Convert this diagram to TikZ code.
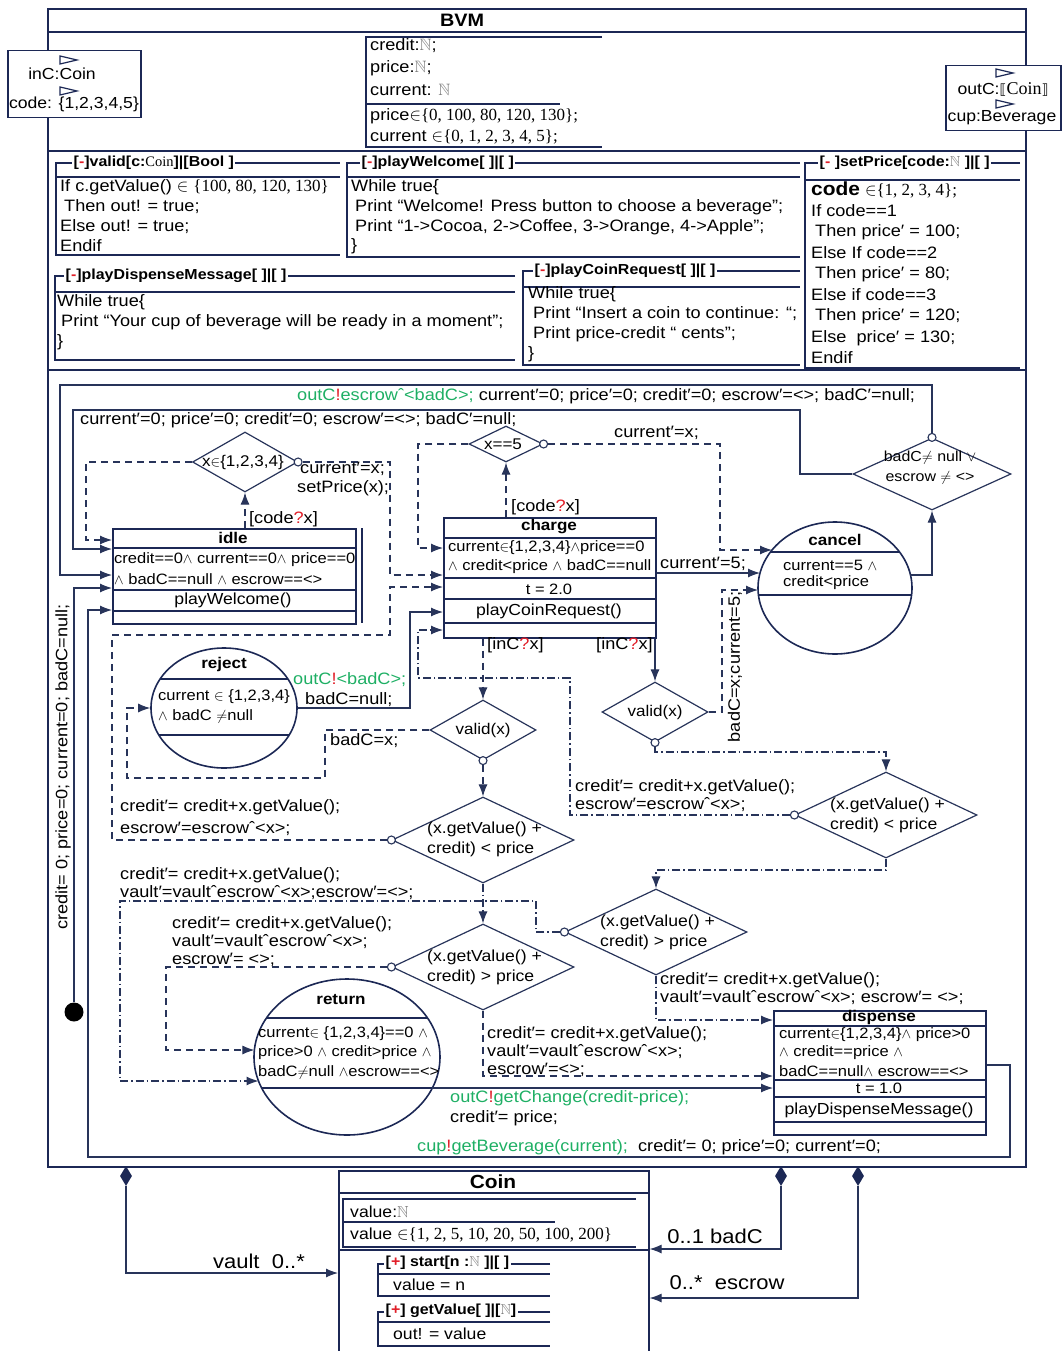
\documentclass[tikz,border=0pt]{standalone}
\usepackage{amssymb}
\usepackage{fontspec}
\setmainfont{Liberation Sans}[FakeStretch=1.1]
\newfontfamily\tms{Liberation Serif}
\newfontfamily\dvs{DejaVu Sans}
\usetikzlibrary{arrows.meta,shapes.geometric}
\definecolor{ln}{RGB}{40,52,90}
\definecolor{fr}{RGB}{28,40,85}
\definecolor{gr}{RGB}{30,175,100}
\definecolor{rd}{RGB}{225,30,40}
\newcommand\fsz[1]{\fontsize{#1}{#1}\selectfont}
\newcommand\sN{{\color{gray}$\mathbb{N}$}}
\newcommand\sIn{$\in$}
\newcommand\sAnd{$\wedge$}
\newcommand\sOr{$\vee$}
\newcommand\sNe{$\neq$}
\newcommand\prm{′}
\newcommand\ccat{ˆ}
\newcommand\rbang{{\color{rd}!}}
\newcommand\rqm{{\color{rd}?}}
\newcommand\rmn{{\color{rd}-}}
\newcommand\rpl{{\color{rd}+}}
\newcommand\gtx[1]{{\color{gr}#1}}
\begin{document}
\begin{tikzpicture}[x=1pt,y=-1pt,
  cn/.style={draw=ln, line width=1.1pt},
  dsh/.style={cn, dash pattern=on 7pt off 5pt},
  ddt/.style={cn, dash pattern=on 8pt off 3pt on 1.5pt off 3pt},
  arr/.style={-{Latex[length=12pt,width=9pt]}},
  cdot/.style={circle, draw=ln, line width=1.1pt, fill=white, inner sep=0pt, minimum size=8pt},
  dia/.style={diamond, draw=ln, line width=1.2pt, inner sep=0pt},
  stbox/.style={rectangle, draw=fr, line width=1.5pt, inner sep=0pt, anchor=north west},
  stell/.style={ellipse, draw=fr, line width=1.6pt, inner sep=0pt},
  chord/.style={draw=fr, line width=1.4pt},
  opl/.style={draw=fr, line width=1.2pt},
  op/.style={anchor=west, inner sep=0pt, font=\fsz{16.5}},
  st/.style={anchor=west, inner sep=0pt, font=\fsz{15}},
  stt/.style={inner sep=0pt, font=\bfseries\fsz{15.5}},
  stc/.style={inner sep=0pt, font=\fsz{15}},
  tl/.style={anchor=west, inner sep=0pt, font=\fsz{16.5}},
  hd/.style={anchor=west, inner sep=1.5pt, fill=white, font=\bfseries\fsz{14.5}},
  dtx/.style={anchor=west, inner sep=0pt, font=\fsz{16}},
  dlab/.style={inner sep=0pt, font=\fsz{15.5}},
]
\useasboundingbox (0,0) rectangle (1062,1351);

% ===== BVM frame =====
\node[draw=fr, line width=2pt, minimum width=978pt, minimum height=1158pt, anchor=north west, inner sep=0pt] (bvm) at (47,8) {};
\draw[fr, line width=1.5pt] (47,32) -- (1025,32);
\node[font=\bfseries\fsz{18}, inner sep=0pt] (bvmt) at (462,20) {BVM};
\draw[fr, line width=1.4pt] (47,151) -- (1025,151);
\draw[fr, line width=1.4pt] (47,370) -- (1025,370);

% attributes
\draw[opl] (602,37) -- (366,37) -- (366,147) -- (602,147);
\draw[opl] (366,104) -- (560,104);
\node[op] at (370,46) {credit:\sN;};
\node[op] at (370,68) {price:\sN;};
\node[op] at (370,90) {current: \sN};
\node[op] at (370,116) {price{\tms\fsz{17}\sIn\{0, 100, 80, 120, 130\};}};
\node[op] at (370,137) {current {\tms\fsz{17}\sIn\{0, 1, 2, 3, 4, 5\};}};

% ports
\node[draw=fr, fill=white, line width=1.5pt, minimum width=133pt, minimum height=67pt, anchor=north west, inner sep=0pt] (inc) at (7,50) {};
\draw[fr, line width=1.2pt] (60,56) -- (77,60) -- (60,64) -- cycle;
\node[font=\fsz{16}, inner sep=0pt] at (62,74) {inC:Coin};
\draw[fr, line width=1.2pt] (60,87) -- (77,91) -- (60,95) -- cycle;
\node[font=\fsz{16}, inner sep=0pt] at (74,104) {code: \{1,2,3,4,5\}};
\node[draw=fr, fill=white, line width=1.5pt, minimum width=115pt, minimum height=65pt, anchor=north west, inner sep=0pt] (outc) at (945,65) {};
\draw[fr, line width=1.2pt] (996,69) -- (1013,73) -- (996,77) -- cycle;
\node[font=\fsz{16}, inner sep=0pt] at (1003,89) {outC:{\dvs\fsz{14}⟦}{\tms\fsz{18}Coin}{\dvs\fsz{14}⟧}};
\draw[fr, line width=1.2pt] (996,100) -- (1013,104) -- (996,108) -- cycle;
\node[font=\fsz{16}, inner sep=0pt] at (1002,118) {cup:Beverage};

% ===== operations =====
\draw[opl] (340,163) -- (56,163) -- (56,255) -- (340,255);
\draw[opl] (56,177) -- (340,177);
\node[hd] at (72,163) {[\rmn]valid[c:{\mdseries\tms Coin}]|[Bool ]};
\node[op] at (60,187) {If c.getValue() \sIn\ {\tms\fsz{17}\{100, 80, 120, 130\}}};
\node[op] at (64,207) {Then out! = true;};
\node[op] at (60,227) {Else out! = true;};
\node[op] at (60,246) {Endif};

\draw[opl] (800,163) -- (347,163) -- (347,257) -- (800,257);
\draw[opl] (347,177) -- (800,177);
\node[hd] at (360,163) {[\rmn]playWelcome[ ]|[ ]};
\node[op] at (351,187) {While true\{};
\node[op] at (355,207) {Print “Welcome! Press button to choose a beverage”;};
\node[op] at (355,227) {Print “1->Cocoa, 2->Coffee, 3->Orange, 4->Apple”;};
\node[op] at (351,246) {\}};

\draw[opl] (1020,163) -- (805,163) -- (805,368) -- (1020,368);
\draw[opl] (805,180) -- (1020,180);
\node[hd] at (818,163) {[\rmn\ ]setPrice[code:\sN\ ]|[ ]};
\node[op] at (811,190) {{\bfseries\fsz{19}code} {\tms\fsz{17}\sIn\{1, 2, 3, 4\};}};
\node[op] at (811,211) {If code==1};
\node[op] at (815,232) {Then price\prm\ = 100;};
\node[op] at (811,253) {Else If code==2};
\node[op] at (815,274) {Then price\prm\ = 80;};
\node[op] at (811,295) {Else if code==3};
\node[op] at (815,316) {Then price\prm\ = 120;};
\node[op] at (811,338) {Else\ \ price\prm\ = 130;};
\node[op] at (811,358) {Endif};

\draw[opl] (515,276) -- (55,276) -- (55,360) -- (515,360);
\draw[opl] (55,292) -- (515,292);
\node[hd] at (64,276) {[\rmn]playDispenseMessage[ ]|[ ]};
\node[op] at (57,302) {While true\{};
\node[op] at (61,322) {Print “Your cup of beverage will be ready in a moment”;};
\node[op] at (57,342) {\}};

\draw[opl] (800,271) -- (523,271) -- (523,365) -- (800,365);
\draw[opl] (523,287) -- (800,287);
\node[hd] at (533,271) {[\rmn]playCoinRequest[ ]|[ ]};
\node[op] at (528,294) {While true\{};
\node[op] at (533,314) {Print “Insert a coin to continue: “;};
\node[op] at (533,334) {Print price-credit “ cents”;};
\node[op] at (528,354) {\}};

% ===== states =====
\node[stbox, minimum width=243pt, minimum height=95pt] (idle) at (112,528) {};
\draw[fr, line width=1.5pt] (362,528) -- (362,623);
\draw[chord] (112,548) -- (355,548) (112,590) -- (355,590) (112,611) -- (355,611);
\node[stt] at (233,538) {idle};
\node[st] at (114,560) {credit==0\sAnd\ current==0\sAnd\ price==0};
\node[st] at (114,579) {\sAnd\ badC==null \sAnd\ escrow==<>};
\node[stc, font=\fsz{16}] at (233,600) {playWelcome()};

\node[stbox, minimum width=212pt, minimum height=120pt] (charge) at (443,517) {};
\draw[chord] (443,538) -- (655,538) (443,578) -- (655,578) (443,599) -- (655,599) (443,623) -- (655,623);
\node[stt] at (549,527) {charge};
\node[st] at (448,548) {current\sIn\{1,2,3,4\}\sAnd price==0};
\node[st] at (448,567) {\sAnd\ credit<price \sAnd\ badC==null};
\node[stc] at (549,589) {t = 2.0};
\node[stc, font=\fsz{16}] at (549,611) {playCoinRequest()};

\node[stbox, minimum width=212pt, minimum height=124pt] (disp) at (773,1010) {};
\draw[chord] (773,1026) -- (985,1026) (773,1080) -- (985,1080) (773,1097) -- (985,1097) (773,1122) -- (985,1122);
\node[stt] at (879,1017) {dispense};
\node[st] at (779,1035) {current\sIn\{1,2,3,4\}\sAnd\ price>0};
\node[st] at (779,1053) {\sAnd\ credit==price \sAnd};
\node[st] at (779,1071) {badC==null\sAnd\ escrow==<>};
\node[stc] at (879,1088) {t = 1.0};
\node[stc, font=\fsz{16}] at (879,1110) {playDispenseMessage()};

\node[stell, minimum width=154pt, minimum height=132pt] (cancel) at (835,588) {};
\draw[chord] (770.5,552) -- (899.5,552) (758.4,595) -- (911.6,595);
\node[stt] at (835,540) {cancel};
\node[st] at (783,565) {current==5 \sAnd};
\node[st] at (783,583) {credit<price};

\node[stell, minimum width=146pt, minimum height=120pt] (rej) at (224,708) {};
\draw[chord] (160.1,679) -- (287.9,679) (158.8,735) -- (289.2,735);
\node[stt] at (224,664) {reject};
\node[st] at (158,697) {current \sIn\ \{1,2,3,4\}};
\node[st] at (158,716) {\sAnd\ badC \sNe null};

\node[stell, minimum width=186pt, minimum height=156pt] (ret) at (347,1057) {};
\draw[chord] (266.5,1018) -- (427.5,1018) (261.7,1088) -- (432.3,1088);
\node[stt] at (341,1000) {return};
\node[st] at (258,1034) {current\sIn\ \{1,2,3,4\}==0 \sAnd};
\node[st] at (258,1053) {price>0 \sAnd\ credit>price \sAnd};
\node[st] at (258,1072) {badC\sNe null \sAnd escrow==<>};

% border points on ellipses
\coordinate (cA) at (772,550);
\coordinate (cB) at (760,573);
\coordinate (cC) at (910,575);
\coordinate (cD) at (758,590);
\coordinate (cE) at (258.5,1081);
\coordinate (cF) at (254.4,1050);
\coordinate (cG) at (432.3,1088);

% ===== decisions =====
\node[dia, minimum width=105pt, minimum height=60pt] (dset) at (245,462) {};
\node[dlab] at (243,462) {x\sIn\{1,2,3,4\}};
\node[dia, minimum width=74pt, minimum height=36pt] (d5) at (506,444) {};
\node[dlab] at (503,444) {x==5};
\node[dia, minimum width=158pt, minimum height=72pt] (dbad) at (932,474) {};
\node[inner sep=0pt, font=\fsz{14.5}] at (930,458) {badC\sNe\ null \sOr};
\node[inner sep=0pt, font=\fsz{14.5}] at (930,478) {escrow \sNe\ <>};
\node[dia, minimum width=106pt, minimum height=60pt] (dvl) at (483,730) {};
\node[dlab] at (483,730) {valid(x)};
\node[dia, minimum width=106pt, minimum height=60pt] (dvr) at (655,712) {};
\node[dlab] at (655,712) {valid(x)};
\node[dia, minimum width=182pt, minimum height=86pt] (dlt1) at (483,840) {};
\node[dtx] at (427,829) {(x.getValue() +};
\node[dtx] at (427,849) {credit) < price};
\node[dia, minimum width=182pt, minimum height=86pt] (dlt2) at (886,815) {};
\node[dtx] at (830,805) {(x.getValue() +};
\node[dtx] at (830,825) {credit) < price};
\node[dia, minimum width=182pt, minimum height=86pt] (dgt1) at (483,967) {};
\node[dtx] at (427,957) {(x.getValue() +};
\node[dtx] at (427,977) {credit) > price};
\node[dia, minimum width=182pt, minimum height=86pt] (dgt2) at (656,932) {};
\node[dtx] at (600,922) {(x.getValue() +};
\node[dtx] at (600,942) {credit) > price};

\node[cdot] (c1) at (dset.east) {};
\node[cdot] (c2) at (d5.east) {};
\node[cdot] (c3) at (dbad.north) {};
\node[cdot] (c4) at (dvl.south) {};
\node[cdot] (c5) at (dvr.south) {};
\node[cdot] (c6) at (dlt2.west) {};
\node[cdot] (c7) at (dlt1.west) {};
\node[cdot] (c8) at (dgt2.west) {};
\node[cdot] (c9) at (dgt1.west) {};

\node[circle, fill=black, minimum size=19pt, inner sep=0pt] (init) at (74,1012) {};

% ===== transitions =====
\draw[dsh,arr] (dset.south|-idle.north) -- (dset.south);
\draw[dsh,arr] (dset.west) -| (86,540) -- (idle.west|-0,540);
\draw[dsh,arr] (c1.east) -| (390,575) -- (charge.west|-0,575);
\draw[dsh,arr] (d5.south|-charge.north) -- (d5.south);
\draw[dsh,arr] (d5.west) -| (418,548) -- (charge.west|-0,548);
\draw[dsh,arr] (c2.east) -| (720,550) -- (cA);
\draw[cn,arr] (charge.east|-0,573) -- (cB);
\draw[cn,arr] (cC) -| (dbad.south);
\draw[cn,arr] (c3.north) |- (60,385) -- (60,575) -- (idle.west|-0,575);
\draw[cn,arr] (dbad.west) -| (800,410) -- (73,410) -- (73,549) -- (idle.west|-0,549);
\draw[dsh,arr] (dvl.north|-charge.south) -- (dvl.north);
\draw[cn,arr] (dvr.north|-charge.south) -- (dvr.north);
\draw[dsh,arr] (dvl.west) -| (325,778) -| (127,708) -- (rej.west);
\draw[dsh,arr] (c4.south) -- (dlt1.north);
\draw[dsh,arr] (dvr.east) -| (722,590) -- (cD);
\draw[ddt,arr] (c5.south) |- (886,752) -- (dlt2.north);
\draw[ddt,arr] (c6.west) -| (570,678) -| (418,630) -- (charge.west|-0,630);
\draw[dsh,arr] (c7.west) -| (112,635) -| (390,587) -- (charge.west|-0,587);
\draw[cn,arr] (rej.east) -| (410,612) -- (charge.west|-0,612);
\draw[ddt,arr] (dlt1.south) -- (dgt1.north);
\draw[ddt,arr] (dlt2.south) |- (656,870) -- (dgt2.north);
\draw[ddt,arr] (c8.west) -| (536,901) -| (120,1081) -- (cE);
\draw[dsh,arr] (c9.west) -| (166,1050) -- (cF);
\draw[dsh,arr] (dgt1.south) |- (disp.west|-0,1076);
\draw[ddt,arr] (dgt2.south) |- (disp.west|-0,1020);
\draw[cn,arr] (cG) -- (disp.west|-0,1088);
\draw[cn,arr] (disp.east|-0,1065) -| (1010,1157) -| (88,610) -- (idle.west|-0,610);
\draw[cn,arr] (init.north) -- (74,588) -- (idle.west|-0,588);

% ===== transition labels =====
\node[tl] at (297,396) {\gtx{outC\rbang escrow\ccat<badC>;} current\prm=0; price\prm=0; credit\prm=0; escrow\prm=<>; badC\prm=null;};
\node[tl] at (80,420) {current\prm=0; price\prm=0; credit\prm=0; escrow\prm=<>; badC\prm=null;};
\node[tl] at (249,519) {[code\rqm x]};
\node[tl] at (300,469) {current\prm=x;};
\node[tl] at (297,488) {setPrice(x);};
\node[tl] at (511,507) {[code\rqm x]};
\node[tl] at (614,433) {current\prm=x;};
\node[tl] at (660,564) {current\prm=5;};
\node[tl] at (487,645) {[inC\rqm x]};
\node[tl] at (596,645) {[inC\rqm x]};
\node[tl] at (293,680) {\gtx{outC\rbang<badC>;}};
\node[tl] at (305,700) {badC=null;};
\node[tl] at (330,741) {badC=x;};
\node[tl, anchor=center, rotate=90] at (735,667) {badC=x;current=5;};
\node[tl] at (120,807) {credit\prm= credit+x.getValue();};
\node[tl] at (120,829) {escrow\prm=escrow\ccat<x>;};
\node[tl] at (575,787) {credit\prm= credit+x.getValue();};
\node[tl] at (575,805) {escrow\prm=escrow\ccat<x>;};
\node[tl] at (120,875) {credit\prm= credit+x.getValue();};
\node[tl] at (120,893) {vault\prm=vault\ccat escrow\ccat<x>;escrow\prm=<>;};
\node[tl] at (172,924) {credit\prm= credit+x.getValue();};
\node[tl] at (172,942) {vault\prm=vault\ccat escrow\ccat<x>;};
\node[tl] at (172,960) {escrow\prm= <>;};
\node[tl] at (660,980) {credit\prm= credit+x.getValue();};
\node[tl] at (660,998) {vault\prm=vault\ccat escrow\ccat<x>; escrow\prm= <>;};
\node[tl] at (487,1034) {credit\prm= credit+x.getValue();};
\node[tl] at (487,1052) {vault\prm=vault\ccat escrow\ccat<x>;};
\node[tl] at (487,1070) {escrow\prm=<>;};
\node[tl] at (450,1098) {\gtx{outC\rbang getChange(credit-price);}};
\node[tl] at (450,1118) {credit\prm= price;};
\node[tl] at (417,1147) {\gtx{cup\rbang getBeverage(current);}\ \ credit\prm= 0; price\prm=0; current\prm=0;};
\node[tl, anchor=center, rotate=90] at (63,767) {credit= 0; price=0; current=0; badC=null;};

% ===== Coin class =====
\node[draw=fr, line width=1.6pt, minimum width=310pt, minimum height=200pt, anchor=north west, inner sep=0pt] (coin) at (338,1170) {};
\draw[fr, line width=1.4pt] (338,1193) -- (648,1193);
\node[font=\bfseries\fsz{19}, inner sep=0pt] at (493,1182) {Coin};
\draw[opl] (636,1199) -- (343,1199) -- (343,1247) -- (636,1247);
\draw[opl] (343,1222) -- (555,1222);
\draw[fr, line width=1.4pt] (338,1250) -- (648,1250);
\node[op, font=\fsz{16}] at (350,1212) {value:\sN};
\node[op, font=\fsz{16}] at (350,1235) {value {\tms\fsz{17}\sIn\{1, 2, 5, 10, 20, 50, 100, 200\}}};
\draw[opl] (550,1264) -- (378,1264) -- (378,1296) -- (550,1296);
\draw[opl] (378,1274) -- (550,1274);
\node[hd] at (384,1263) {[\rpl] start[n :\sN\ ]|[ ]};
\node[op, font=\fsz{16}] at (393,1285) {value = n};
\draw[opl] (550,1312) -- (378,1312) -- (378,1346) -- (550,1346);
\draw[opl] (378,1322) -- (550,1322);
\node[hd] at (384,1311) {[\rpl] getValue[ ]|[\sN]};
\node[op, font=\fsz{16}] at (393,1334) {out! = value};

% compositions
\node[diamond, fill=fr, minimum width=12pt, minimum height=20pt, inner sep=0pt] (kva) at (126,1176) {};
\node[diamond, fill=fr, minimum width=12pt, minimum height=20pt, inner sep=0pt] (kbd) at (781,1176) {};
\node[diamond, fill=fr, minimum width=12pt, minimum height=20pt, inner sep=0pt] (kes) at (858,1176) {};
\draw[cn,arr] (kva.south) |- (coin.west|-0,1273);
\draw[cn,arr] (kbd.south) |- (coin.east|-0,1249);
\draw[cn,arr] (kes.south) |- (coin.east|-0,1298);
\node[font=\fsz{20}, inner sep=0pt] at (259,1261) {vault\ \ 0..*};
\node[font=\fsz{20}, inner sep=0pt] at (715,1236) {0..1 badC};
\node[font=\fsz{20}, inner sep=0pt] at (727,1283) {0..*\ \ escrow};
\end{tikzpicture}
\end{document}
